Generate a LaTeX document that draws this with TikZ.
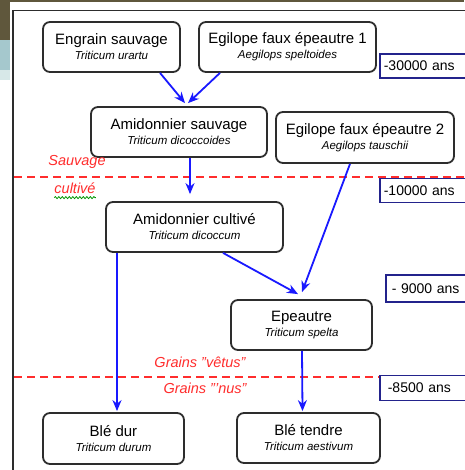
\documentclass[tikz,border=0pt]{standalone}
\usepackage{fontspec}
\setmainfont{Liberation Sans}
\usetikzlibrary{arrows.meta,decorations.pathmorphing,calc}

\definecolor{framegray}{RGB}{45,45,45}
\definecolor{flowblue}{RGB}{25,25,255}
\definecolor{datenavy}{RGB}{35,35,140}
\definecolor{limitred}{RGB}{255,45,45}
\definecolor{stripolive}{RGB}{95,87,60}
\definecolor{stripteal}{RGB}{165,200,205}
\definecolor{stripmist}{RGB}{215,232,232}
\definecolor{spellgreen}{RGB}{0,150,0}

\newcommand{\commonname}[1]{{\fontsize{15}{17}\selectfont #1}}
\newcommand{\speciesname}[1]{{\fontsize{11.5}{14}\selectfont\itshape #1}}
\newcommand{\sq}{\char"27\relax}
\newcommand{\dq}{\char"22\relax}

\begin{document}
\begin{tikzpicture}[x=1pt,y=-1pt,
  box/.style={draw=framegray, line width=1.8pt, rounded corners=7pt, fill=white,
    align=center, inner sep=0pt, minimum height=50pt},
  datebox/.style={draw=datenavy, line width=1.6pt, fill=white, anchor=west,
    inner xsep=4pt, inner ysep=0pt, text width=92pt, align=left,
    minimum height=24pt, font=\fontsize{14}{16}\selectfont},
  flow/.style={draw=flowblue, line width=1.8pt,
    -{Stealth[length=11pt,width=9pt]}},
  limit/.style={draw=limitred, line width=1.7pt, dash pattern=on 8pt off 5pt},
  redlabel/.style={text=limitred, font=\fontsize{14.5}{16}\selectfont\itshape, inner sep=0pt}
]
\useasboundingbox (0,0) rectangle (464,470);
\fill[white] (0,0) rectangle (464,470);

% window edges around the frame
\fill[stripolive] (0,0) rectangle (464,2.5);
\fill[stripolive] (0,0) rectangle (9.5,40);
\fill[stripteal] (0,40) rectangle (9.5,70);
\fill[stripmist] (0,70) rectangle (9.5,80);

% outer frame
\draw[framegray, line width=1.8pt] (13,470) -- (13,10.5) -- (470,10.5);

% era limits
\draw[limit] (14,177) -- (470,177);
\draw[limit] (14,377) -- (470,377);

% species boxes
\node[box, minimum width=137pt] (eng) at (111.5,47)
  {\commonname{Engrain sauvage}\\[3pt]\speciesname{Triticum urartu}};
\node[box, minimum width=177pt] (egi1) at (287.5,47)
  {\commonname{Egilope faux épeautre 1}\\[3pt]\speciesname{Aegilops speltoides}};
\node[box, minimum width=176pt] (amis) at (179,132)
  {\commonname{Amidonnier sauvage}\\[3pt]\speciesname{Triticum dicoccoides}};
\node[box, minimum width=178pt, minimum height=51pt] (egi2) at (365,137.5)
  {\commonname{Egilope faux épeautre 2}\\[3pt]\speciesname{Aegilops tauschii}};
\node[box, minimum width=177pt] (amic) at (194.5,227)
  {\commonname{Amidonnier cultivé}\\[3pt]\speciesname{Triticum dicoccum}};
\node[box, minimum width=141pt] (epe) at (301.5,325)
  {\commonname{Epeautre}\\[3pt]\speciesname{Triticum spelta}};
\node[box, minimum width=141pt, minimum height=51pt] (bled) at (113.5,438.5)
  {\commonname{Blé dur}\\[3pt]\speciesname{Triticum durum}};
\node[box, minimum width=143pt] (blet) at (308.5,438)
  {\commonname{Blé tendre}\\[3pt]\speciesname{Triticum aestivum}};

% dates
\node[datebox] (d1) at (379,66) {-30000 ans};
\node[datebox] (d2) at (379,190.5) {-10000 ans};
\node[datebox, inner xsep=6pt, minimum height=27pt] (d3) at (385,288.5) {- 9000 ans};
\node[datebox, inner xsep=8pt, minimum height=25pt] (d4) at (379,388) {-8500 ans};

% era labels
\node[redlabel] (wild) at (77,162) {Sauvage};
\node[redlabel] (grown) at (75,188) {cultivé};
\draw[spellgreen, line width=0.8pt, decorate,
  decoration={snake, segment length=3.5pt, amplitude=1pt}]
  ([yshift=-4pt]grown.south west) -- ([yshift=-4pt]grown.south east);
\node[redlabel] (hulled) at (200,362) {Grains \dq vêtus\dq};
\node[redlabel] (naked) at (205,388) {Grains \dq\sq nus\dq};

% descent
\draw[flow] ([xshift=48.5pt]eng.south) -- ([xshift=6pt,yshift=3pt]amis.north);
\draw[flow] ([xshift=-67.5pt]egi1.south) -- ([xshift=9pt,yshift=3pt]amis.north);
\draw[flow] ([xshift=11pt]amis.south) -- ([xshift=-4.5pt,yshift=7pt]amic.north);
\draw[flow] ([xshift=-15pt]egi2.south) -- ([xshift=0.5pt,yshift=7pt]epe.north);
\draw[flow] ([xshift=28.5pt]amic.south) -- ([xshift=-3.5pt,yshift=5pt]epe.north);
\draw[flow] ([xshift=-77.5pt]amic.south) -- ([xshift=3.5pt,yshift=1pt]bled.north);
\draw[flow] ([xshift=0.5pt]epe.south) -- ([xshift=-6pt,yshift=1pt]blet.north);
\end{tikzpicture}
\end{document}
